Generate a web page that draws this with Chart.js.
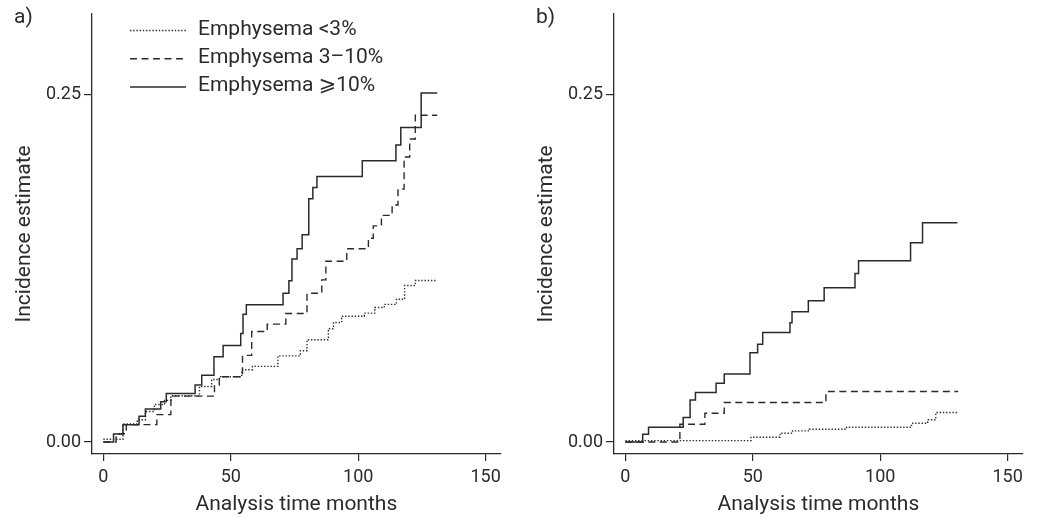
<!DOCTYPE html>
<html><head><meta charset="utf-8">
<script src="https://cdn.jsdelivr.net/npm/chart.js@4"></script>
<style>
html,body{margin:0;padding:0;background:#fff;}
#wrap{position:relative;width:1038px;height:517px;overflow:hidden;}
.pane{position:absolute;top:0;height:517px;}
#pa{left:0;width:519px;}
#pb{left:522px;width:516px;}
</style></head><body>
<div id="wrap"><div class="pane" id="pa"><canvas id="ca"></canvas></div><div class="pane" id="pb"><canvas id="cb"></canvas></div></div>
<script>
// ---- data ----
const seriesLabels = ['Emphysema <3%', 'Emphysema 3\u201310%', 'Emphysema \u2A7E10%'];
const xTicks = [0, 50, 100, 150];
const yTicks = [0, 0.25];
const xTitle = 'Analysis time months';
const yTitle = 'Incidence estimate';

// panel a
const aLowT = [0, 7.7, 13.3, 16.5, 20, 24, 26.5, 37.7, 42.5, 45.5, 54.3, 58.5, 68.5, 77.3, 79.9, 88.3, 90.3, 93.5, 102.4, 106.5, 110.2, 115, 118.2, 122.4, 130.5];
const aLowV = [0.002, 0.013, 0.016, 0.022, 0.027, 0.030, 0.0333, 0.040, 0.045, 0.047, 0.052, 0.0544, 0.062, 0.0657, 0.0736, 0.0815, 0.086, 0.0905, 0.0927, 0.0968, 0.099, 0.1027, 0.1126, 0.1162, 0.1162];
const aMidT = [0, 5, 9, 21, 26.5, 43.6, 45.5, 54.6, 58.2, 64.3, 71.6, 79.9, 85.7, 87.3, 95.5, 104, 105.9, 109.1, 113.3, 115.6, 118, 120.2, 122.4, 131];
const aMidV = [0, 0.006, 0.0125, 0.0197, 0.033, 0.041, 0.047, 0.0623, 0.0795, 0.0848, 0.0925, 0.107, 0.1166, 0.130, 0.139, 0.1466, 0.1555, 0.163, 0.1705, 0.182, 0.205, 0.218, 0.235, 0.235];
const aHighT = [0, 4, 7.7, 14, 16.5, 22.5, 24.7, 36, 38.6, 43.4, 47, 53.9, 54.8, 56.1, 70.5, 72.8, 74, 76, 78, 80.6, 82.2, 83.8, 101.6, 114.8, 116.7, 124.7, 131];
const aHighV = [0, 0.0057, 0.0125, 0.0185, 0.0237, 0.029, 0.035, 0.041, 0.048, 0.0613, 0.0695, 0.078, 0.092, 0.0987, 0.107, 0.116, 0.1317, 0.139, 0.149, 0.175, 0.183, 0.191, 0.2024, 0.2136, 0.2263, 0.251, 0.251];

// panel b
const bLowT = [0, 49.3, 60.7, 65.6, 72.2, 86.8, 112.3, 118.6, 121.8, 130.3];
const bLowV = [0.001, 0.0035, 0.0063, 0.008, 0.0092, 0.0106, 0.0135, 0.016, 0.0212, 0.0212];
const bMidT = [0, 21.4, 31.2, 38.8, 78.7, 130.6];
const bMidV = [0, 0.0128, 0.0207, 0.0284, 0.0363, 0.0363];
const bHighT = [0, 6.8, 9.1, 22.7, 25.4, 27.5, 35.6, 38.8, 48.9, 51.9, 53.9, 64.6, 65.4, 71.8, 78, 90.1, 91.5, 111.9, 116.6, 130.3];
const bHighV = [0, 0.0056, 0.0106, 0.0176, 0.0303, 0.0356, 0.0422, 0.049, 0.0643, 0.0703, 0.0787, 0.0858, 0.0937, 0.1016, 0.111, 0.1213, 0.1304, 0.1433, 0.1577, 0.1577];

// ---- styles ----
const INK = '#2b2b2b';
const FAMILY = 'Roboto, "DejaVu Sans", sans-serif';
const TICKFONT = {family: FAMILY, size: 18, weight: '400'};
const BIGFONT = {family: FAMILY, size: 21, weight: '400'};
const lineStyles = [
  {borderDash: [1.4, 1.8], borderWidth: 1.4},
  {borderDash: [7, 4.5], borderWidth: 1.4},
  {borderDash: [], borderWidth: 1.5}
];

function pts(t, v) { return t.map((x, i) => ({x: x, y: v[i]})); }

function makeDatasets(series) {
  return series.map((s, i) => Object.assign({
    label: seriesLabels[i],
    data: pts(s[0], s[1]),
    borderColor: INK,
    backgroundColor: INK,
    stepped: 'before',
    pointRadius: 0,
    fill: false,
    tension: 0
  }, lineStyles[i]));
}

const deco = {
  id: 'deco',
  afterDraw(chart, args, o) {
    const ctx = chart.ctx;
    ctx.save();
    ctx.font = `${BIGFONT.weight} ${BIGFONT.size}px ${BIGFONT.family}`;
    ctx.fillStyle = INK;
    ctx.textBaseline = 'middle';
    ctx.textAlign = 'left';
    ctx.fillText(o.panel, o.px, o.py);
    if (o.legend) {
      chart.data.datasets.forEach((ds, i) => {
        const y = o.ly + i * o.lgap;
        ctx.strokeStyle = ds.borderColor;
        ctx.lineWidth = ds.borderWidth;
        ctx.setLineDash(ds.borderDash || []);
        ctx.beginPath();
        ctx.moveTo(o.lx0, y);
        ctx.lineTo(o.lx1, y);
        ctx.stroke();
        ctx.setLineDash([]);
        ctx.fillText(ds.label, o.tx, y - 1);
      });
    }
    ctx.restore();
  }
};

function makeChart(id, series, panel, legend, padRight) {
  return new Chart(document.getElementById(id), {
    type: 'line',
    data: {datasets: makeDatasets(series)},
    plugins: [deco],
    options: {
      responsive: true,
      maintainAspectRatio: false,
      animation: false,
      devicePixelRatio: 1,
      layout: {padding: {top: 13, right: padRight, left: 0, bottom: 0}},
      plugins: {
        legend: {display: false},
        tooltip: {enabled: false},
        deco: {panel: panel, px: 14, py: 18, legend: legend, lx0: 130, lx1: 186, tx: 198, ly: 30.5, lgap: 28.3}
      },
      scales: {
        x: {
          type: 'linear', min: -4.45, max: 155.9,
          afterBuildTicks: s => { s.ticks = xTicks.map(v => ({value: v})); },
          afterFit: s => { s.height = 63; },
          ticks: {font: TICKFONT, color: INK, padding: 6, maxRotation: 0, autoSkip: false, callback: v => String(v)},
          grid: {drawOnChartArea: false, drawTicks: true, tickLength: 7, color: INK, lineWidth: 1.2},
          border: {display: true, color: INK, width: 1.3},
          title: {display: true, text: xTitle, font: BIGFONT, color: INK, padding: {top: 0, bottom: 0}}
        },
        y: {
          type: 'linear', min: -0.0086, max: 0.308,
          afterBuildTicks: s => { s.ticks = yTicks.map(v => ({value: v})); },
          afterFit: s => { s.width = 92; },
          ticks: {font: TICKFONT, color: INK, padding: 3, autoSkip: false, callback: v => v.toFixed(2)},
          grid: {drawOnChartArea: false, drawTicks: true, tickLength: 8, color: INK, lineWidth: 1.2},
          border: {display: true, color: INK, width: 1.3},
          title: {display: true, text: yTitle, font: BIGFONT, color: INK, padding: {top: 12, bottom: 0}}
        }
      }
    }
  });
}

makeChart('ca', [[aLowT, aLowV], [aMidT, aMidV], [aHighT, aHighV]], 'a)', true, 18.3);
makeChart('cb', [[bLowT, bLowV], [bMidT, bMidV], [bHighT, bHighV]], 'b)', false, 15.3);
</script>
</body></html>
